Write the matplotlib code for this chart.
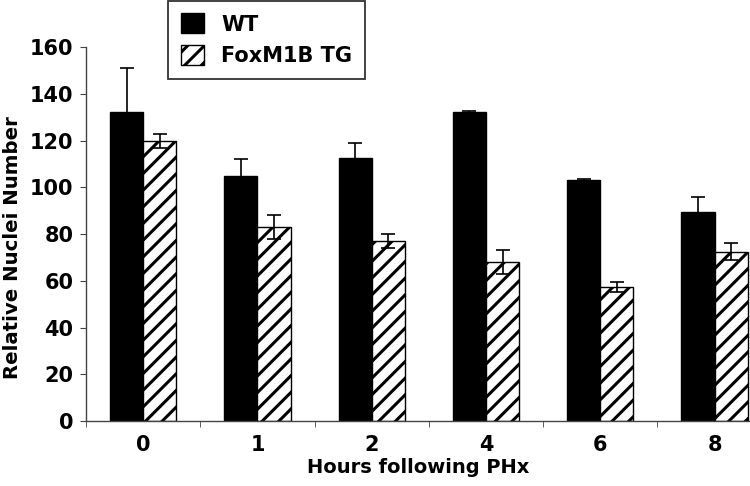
import numpy as np
import matplotlib
matplotlib.use("Agg")
import matplotlib.pyplot as plt

# data
hours = ["0", "1", "2", "4", "6", "8"]
wt = [132, 105, 112.5, 132, 103, 89.5]
wt_err = [19, 7, 6.5, 0.5, 0.5, 6.5]
tg = [120, 83, 77, 68, 57.3, 72.5]
tg_err = [3, 5, 3, 5, 2, 3.5]

plt.rcParams['font.family'] = ['DejaVu Sans']
plt.rcParams['font.weight'] = 'bold'
plt.rcParams['hatch.linewidth'] = 2.2

fig = plt.figure(figsize=(7.5, 4.86), dpi=100)
ax = fig.add_axes([0.1147, 0.1337, 0.8853, 0.7695])

x = np.arange(len(hours))
w = 0.29
ax.bar(x - w/2, wt, w, color='black', edgecolor='black', label='WT')
ax.bar(x + w/2, tg, w, color='white', edgecolor='black', hatch='//',
       linewidth=1, label='FoxM1B TG')
ax.errorbar(x - w/2, wt, yerr=wt_err, fmt='none', ecolor='black',
            elinewidth=1.2, capsize=5, capthick=1.2)
ax.errorbar(x + w/2, tg, yerr=tg_err, fmt='none', ecolor='black',
            elinewidth=1.2, capsize=5, capthick=1.2)

ax.set_yticks(np.arange(0, 161, 20))
ax.set_xticks(x)
ax.set_xticklabels(hours)
ax.set_xticks(np.arange(-0.5, 5.6, 1), minor=True)
# limits after ticks so set_xticks doesn't widen them
ax.set_ylim(0, 160)
ax.set_xlim(-0.5, 5.31)
ax.tick_params(axis='x', which='major', length=0, labelsize=15, pad=10)
ax.tick_params(axis='x', which='minor', length=4, color='#444444')
ax.tick_params(axis='y', labelsize=15, length=4, color='#444444', pad=5)

for s in ['top', 'right']:
    ax.spines[s].set_visible(False)
for s in ['left', 'bottom']:
    ax.spines[s].set_color('#444444')
    ax.spines[s].set_linewidth(1)

ax.set_xlabel('Hours following PHx', fontsize=14, fontweight='bold', labelpad=2)
ax.set_ylabel('Relative Nuclei Number', fontsize=14.2, fontweight='bold')
ax.yaxis.set_label_coords(-0.097, 0.465)

leg = fig.legend(loc='upper left', bbox_to_anchor=(0.224, 0.998),
                 fontsize=15, frameon=True, fancybox=False, edgecolor='black',
                 handlelength=1.15, handleheight=1.1, borderpad=0.6,
                 labelspacing=0.5, handletextpad=0.8, borderaxespad=0)
leg.get_frame().set_linewidth(1.3)

fig.savefig('out.png', dpi=100)
